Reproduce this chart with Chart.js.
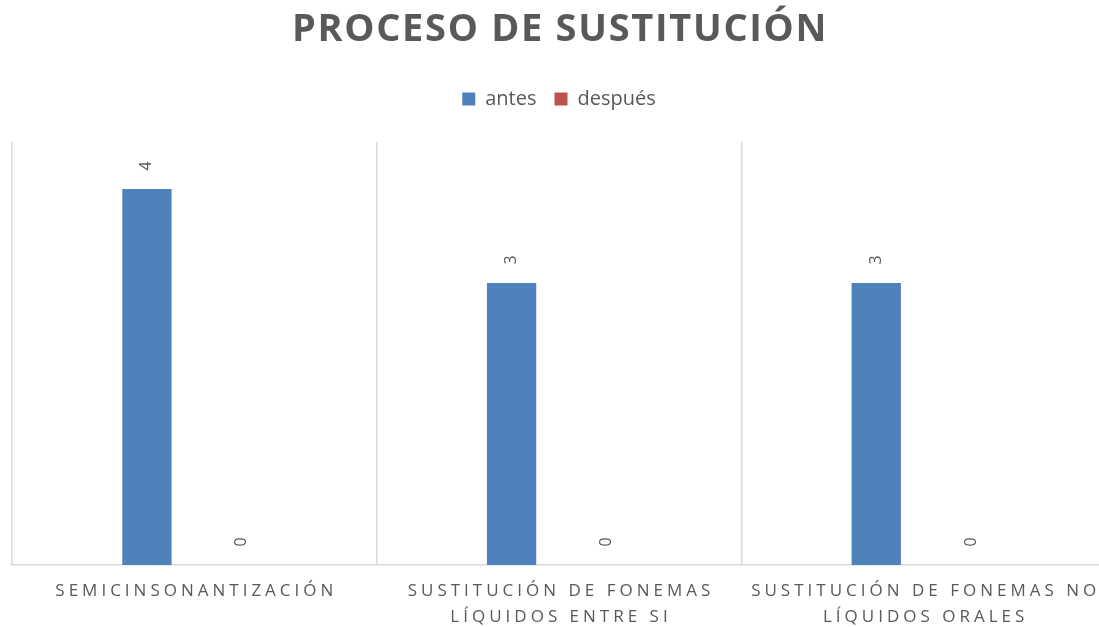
<!DOCTYPE html>
<html lang="es">
<head>
    <meta charset="UTF-8">
    <title>Proceso de sustitución</title>
    <script src="https://cdn.jsdelivr.net/npm/chart.js"></script>
    <style>
        body { margin: 0; background: #fff; }
        .wrap { width: 1099px; height: 627px; overflow: hidden; }
    </style>
</head>
<body>
    <div class="wrap">
        <canvas id="chart" width="1106" height="627"></canvas>
    </div>

    <script>
        // data
        const categories = [
            ['SEMICINSONANTIZACIÓN'],
            ['SUSTITUCIÓN DE FONEMAS', 'LÍQUIDOS ENTRE SI'],
            ['SUSTITUCIÓN DE FONEMAS NO', 'LÍQUIDOS ORALES']
        ];
        const seriesNames = ['antes', 'después'];
        const antes = [4, 3, 3];
        const despues = [0, 0, 0];
        const titleText = 'PROCESO DE SUSTITUCIÓN';

        const textGray = '#595959';
        const lineGray = '#d9d9d9';

        // title with letter spacing (Chart.js title can't space letters)
        const titlePlugin = {
            id: 'spacedTitle',
            afterDraw(chart) {
                const ctx = chart.ctx;
                ctx.save();
                ctx.font = 'bold 38px "Open Sans", sans-serif';
                ctx.letterSpacing = '1.7px';
                ctx.fillStyle = textGray;
                ctx.textAlign = 'center';
                ctx.textBaseline = 'middle';
                ctx.fillText(titleText, 560, 30);
                ctx.restore();
            }
        };

        // more room between legend and plot
        const legendGap = {
            id: 'legendGap',
            beforeInit(chart) {
                const fit = chart.legend.fit;
                chart.legend.fit = function () {
                    fit.bind(chart.legend)();
                    this.height += 23;
                };
            }
        };

        // spaced category labels under the axis
        const categoryLabels = {
            id: 'categoryLabels',
            afterDraw(chart) {
                const ctx = chart.ctx;
                const xs = chart.scales.x;
                ctx.save();
                ctx.font = '17px "Open Sans", sans-serif';
                ctx.letterSpacing = '4px';
                ctx.fillStyle = textGray;
                ctx.textAlign = 'center';
                ctx.textBaseline = 'middle';
                categories.forEach((lines, i) => {
                    const x = xs.getPixelForValue(i);
                    lines.forEach((line, k) => {
                        ctx.fillText(line, x + 2, chart.chartArea.bottom + 26 + k * 26);
                    });
                });
                ctx.restore();
            }
        };

        // rotated value labels above each bar
        const valueLabels = {
            id: 'valueLabels',
            afterDatasetsDraw(chart) {
                const ctx = chart.ctx;
                ctx.save();
                ctx.font = '16px "Open Sans", sans-serif';
                ctx.fillStyle = textGray;
                ctx.textAlign = 'center';
                ctx.textBaseline = 'middle';
                chart.data.datasets.forEach((ds, i) => {
                    chart.getDatasetMeta(i).data.forEach((bar, j) => {
                        ctx.save();
                        ctx.translate(bar.x, bar.y - 23);
                        ctx.rotate(-Math.PI / 2);
                        ctx.fillText(String(ds.data[j]), 0, 0);
                        ctx.restore();
                    });
                });
                ctx.restore();
            }
        };

        new Chart(document.getElementById('chart'), {
            type: 'bar',
            data: {
                labels: categories,
                datasets: [
                    { label: seriesNames[0], data: antes, backgroundColor: '#4F81BD' },
                    { label: seriesNames[1], data: despues, backgroundColor: '#C0504D' }
                ]
            },
            options: {
                responsive: false,
                animation: false,
                layout: { padding: { top: 71, left: 12, right: 0, bottom: 62 } },
                datasets: {
                    bar: { categoryPercentage: 0.52, barPercentage: 0.52 }
                },
                scales: {
                    x: {
                        grid: { color: lineGray, lineWidth: 1.5, drawTicks: false, offset: true },
                        border: { color: lineGray, width: 1.5 },
                        ticks: { display: false }
                    },
                    y: {
                        display: false,
                        min: 0,
                        max: 4.5
                    }
                },
                plugins: {
                    title: { display: false },
                    tooltip: { enabled: false },
                    legend: {
                        position: 'top',
                        labels: {
                            color: textGray,
                            font: { family: '"Open Sans", sans-serif', size: 20 },
                            boxWidth: 13,
                            boxHeight: 13,
                            padding: 18
                        }
                    }
                }
            },
            plugins: [legendGap, titlePlugin, categoryLabels, valueLabels]
        });
    </script>
</body>
</html>
